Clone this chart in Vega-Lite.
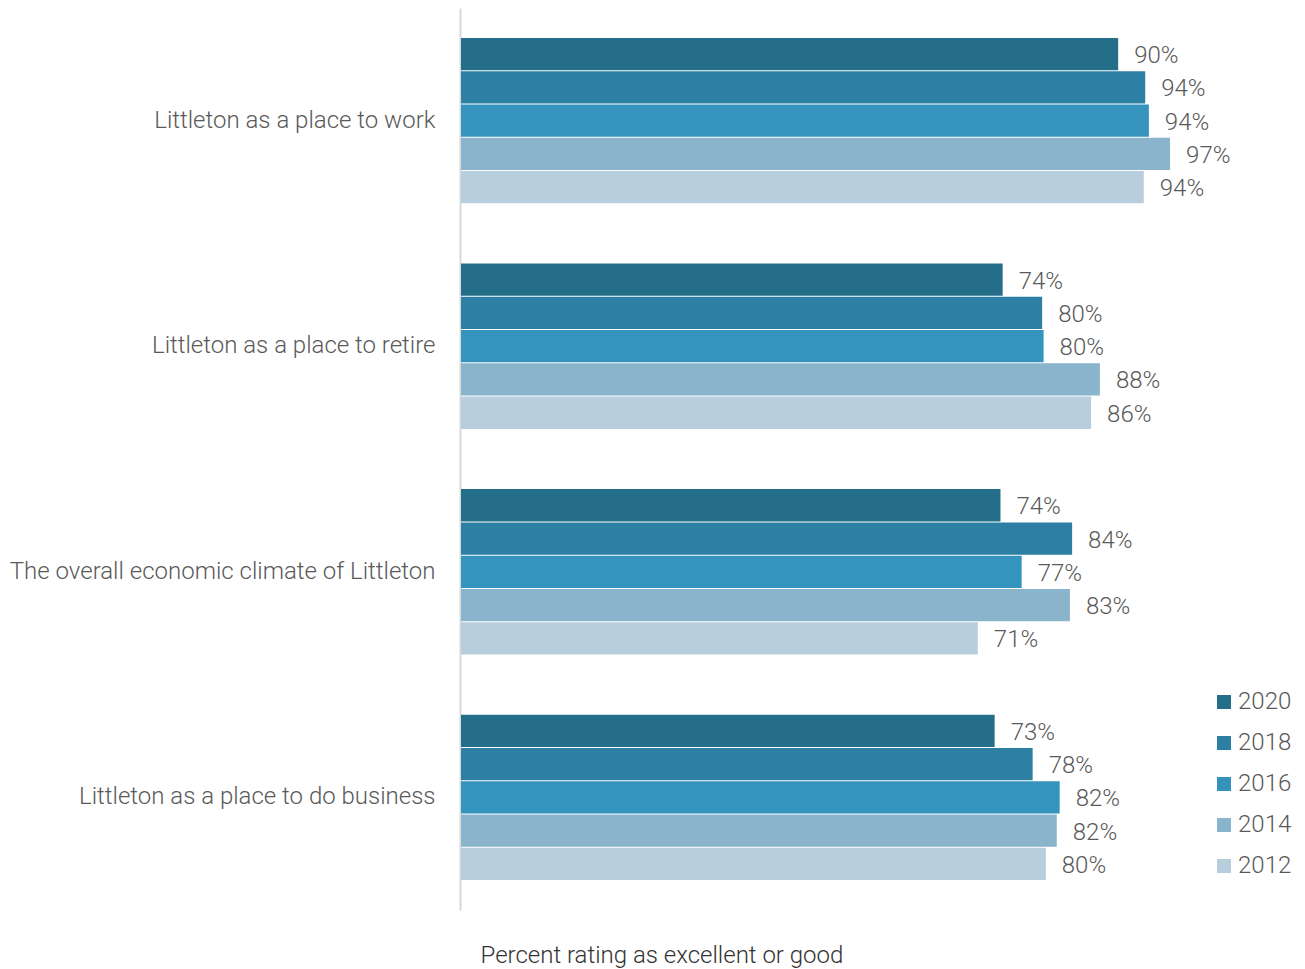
{
  "$schema": "https://vega.github.io/schema/vega-lite/v6.json",
  "autosize": "none",
  "width": 731,
  "height": 902,
  "padding": {"left": 461, "top": 8, "right": 113, "bottom": 59},
  "background": "white",
  "config": {"view": {"stroke": null}, "font": "Roboto"},
  "data": {
    "values": [
      {"item": "Littleton as a place to work", "year": "2020", "value": 89.9, "label": "90%"},
      {"item": "Littleton as a place to work", "year": "2018", "value": 93.6, "label": "94%"},
      {"item": "Littleton as a place to work", "year": "2016", "value": 94.1, "label": "94%"},
      {"item": "Littleton as a place to work", "year": "2014", "value": 97.0, "label": "97%"},
      {"item": "Littleton as a place to work", "year": "2012", "value": 93.4, "label": "94%"},
      {"item": "Littleton as a place to retire", "year": "2020", "value": 74.1, "label": "74%"},
      {"item": "Littleton as a place to retire", "year": "2018", "value": 79.5, "label": "80%"},
      {"item": "Littleton as a place to retire", "year": "2016", "value": 79.7, "label": "80%"},
      {"item": "Littleton as a place to retire", "year": "2014", "value": 87.4, "label": "88%"},
      {"item": "Littleton as a place to retire", "year": "2012", "value": 86.2, "label": "86%"},
      {"item": "The overall economic climate of Littleton", "year": "2020", "value": 73.8, "label": "74%"},
      {"item": "The overall economic climate of Littleton", "year": "2018", "value": 83.6, "label": "84%"},
      {"item": "The overall economic climate of Littleton", "year": "2016", "value": 76.7, "label": "77%"},
      {"item": "The overall economic climate of Littleton", "year": "2014", "value": 83.3, "label": "83%"},
      {"item": "The overall economic climate of Littleton", "year": "2012", "value": 70.7, "label": "71%"},
      {"item": "Littleton as a place to do business", "year": "2020", "value": 73.0, "label": "73%"},
      {"item": "Littleton as a place to do business", "year": "2018", "value": 78.2, "label": "78%"},
      {"item": "Littleton as a place to do business", "year": "2016", "value": 81.9, "label": "82%"},
      {"item": "Littleton as a place to do business", "year": "2014", "value": 81.5, "label": "82%"},
      {"item": "Littleton as a place to do business", "year": "2012", "value": 80.0, "label": "80%"}
    ]
  },
  "encoding": {
    "y": {
      "field": "item",
      "type": "nominal",
      "sort": null,
      "scale": {"paddingInner": 0.267, "paddingOuter": 0.133},
      "axis": {
        "title": null,
        "ticks": false,
        "domain": true,
        "offset": 1,
        "domainColor": "#d9d9d9",
        "domainWidth": 2,
        "labelPadding": 25,
        "labelFont": "Roboto",
        "labelFontWeight": 300,
        "labelFontSize": 24,
        "labelColor": "#595959",
        "labelLimit": 600
      }
    },
    "yOffset": {
      "field": "year",
      "type": "nominal",
      "sort": ["2020", "2018", "2016", "2014", "2012"],
      "scale": {"paddingInner": 0.03, "paddingOuter": 0}
    },
    "x": {
      "field": "value",
      "type": "quantitative",
      "scale": {"domain": [0, 100]},
      "axis": {
        "title": "Percent rating as excellent or good",
        "labels": false,
        "ticks": false,
        "domain": false,
        "grid": false,
        "titleFont": "Roboto",
        "titleFontWeight": 300,
        "titleFontSize": 24,
        "titleColor": "#333333",
        "titleAnchor": "start",
        "titleAlign": "left",
        "titleBaseline": "middle",
        "titleX": 19,
        "titleY": 45
      }
    }
  },
  "layer": [
    {
      "mark": {"type": "bar"},
      "encoding": {
        "color": {
          "field": "year",
          "type": "nominal",
          "sort": ["2020", "2018", "2016", "2014", "2012"],
          "scale": {
            "domain": ["2020", "2018", "2016", "2014", "2012"],
            "range": ["#246e8a", "#2d80a3", "#3494bd", "#8ab3cc", "#b8cedc"]
          },
          "legend": {
            "title": null,
            "orient": "none",
            "legendX": 751,
            "legendY": 682,
            "symbolType": "square",
            "symbolSize": 196,
            "symbolStrokeWidth": 0,
            "labelFont": "Roboto",
            "labelFontWeight": 300,
            "labelFontSize": 24,
            "labelColor": "#595959",
            "labelOffset": 2,
            "rowPadding": 17
          }
        }
      }
    },
    {
      "mark": {
        "type": "text",
        "align": "left",
        "baseline": "middle",
        "dx": 16,
        "dy": 2,
        "font": "Roboto",
        "fontWeight": 300,
        "fontSize": 24,
        "color": "#595959"
      },
      "encoding": {"text": {"field": "label"}}
    }
  ]
}
